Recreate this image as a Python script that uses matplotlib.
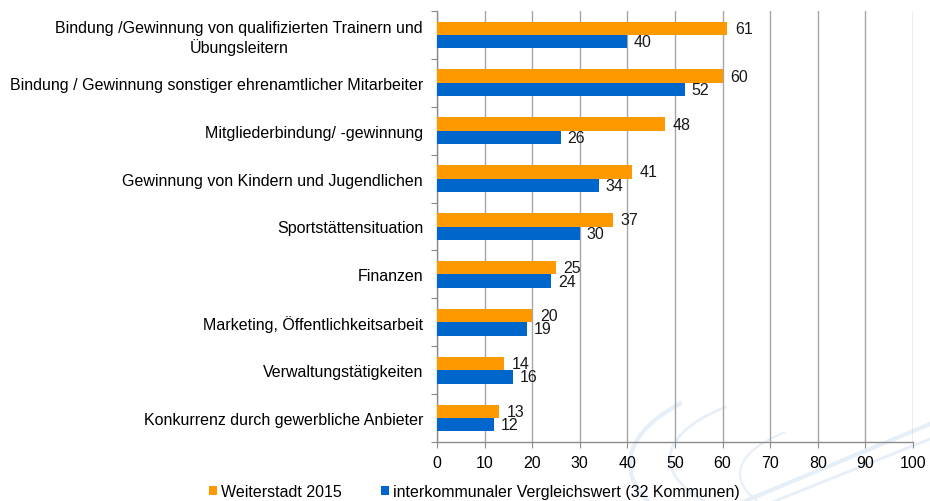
import matplotlib
matplotlib.use("Agg")
import matplotlib.pyplot as plt
from matplotlib.patches import Arc
import numpy as np

plt.rcParams['font.family'] = ['Liberation Sans', 'DejaVu Sans']

# data (top to bottom)
categories = [
    "Bindung /Gewinnung von qualifizierten Trainern und\nÜbungsleitern",
    "Bindung / Gewinnung sonstiger ehrenamtlicher Mitarbeiter",
    "Mitgliederbindung/ -gewinnung",
    "Gewinnung von Kindern und Jugendlichen",
    "Sportstättensituation",
    "Finanzen",
    "Marketing, Öffentlichkeitsarbeit",
    "Verwaltungstätigkeiten",
    "Konkurrenz durch gewerbliche Anbieter",
]
weiterstadt = [61, 60, 48, 41, 37, 25, 20, 14, 13]
vergleich = [40, 52, 26, 34, 30, 24, 19, 16, 12]
series_names = ["Weiterstadt 2015", "interkommunaler Vergleichswert (32 Kommunen)"]
x_ticks = list(range(0, 101, 10))

orange = "#FF9900"
blue = "#0066CC"
grey = "#8C8C8C"
fs = 11.5

fig = plt.figure(figsize=(9.3, 5.02), dpi=100)

# faint swirl watermark in the background (bottom right)
bg = fig.add_axes([0, 0, 1, 1], zorder=-1)
bg.set_xlim(0, 930)
bg.set_ylim(502, 0)
bg.axis('off')
swirl = '#e6eff8'
for w, hgt, cx, cy, lw in [(440, 190, 850, 465, 3), (400, 150, 870, 460, 2), (320, 120, 900, 475, 1.5)]:
    bg.add_patch(Arc((cx, cy), w, hgt, theta1=100, theta2=200, color=swirl, lw=lw))
bg.plot([690, 930], [525, 425], color=swirl, lw=3)
bg.plot([730, 930], [520, 440], color=swirl, lw=2)

ax = fig.add_axes([437 / 930, 1 - 443 / 502, 476 / 930, 431 / 502])
ax.patch.set_alpha(0)

n = len(categories)
y = np.arange(n)[::-1]
h = 0.28

ax.barh(y + h / 2, weiterstadt, height=h, color=orange, label=series_names[0], zorder=3)
ax.barh(y - h / 2, vergleich, height=h, color=blue, label=series_names[1], zorder=3)

# value labels
for yi, v in zip(y, weiterstadt):
    ax.text(v + 1.6, yi + h / 2, str(v), va='center', ha='left', fontsize=fs, color='#1a1a1a')
for yi, v in zip(y, vergleich):
    ax.text(v + 1.4, yi - h / 2, str(v), va='center', ha='left', fontsize=fs, color='#1a1a1a')

ax.set_xlim(0, 100)
ax.set_ylim(-0.5, n - 0.5)
ax.set_xticks(x_ticks)
ax.set_xticklabels([str(t) for t in x_ticks], fontsize=fs)

# category labels centred between tick marks, ticks on the boundaries
ax.set_yticks(np.arange(-0.5, n, 1.0))
ax.set_yticklabels([])
ax.set_yticks(y, minor=True)
ax.set_yticklabels(categories, minor=True, fontsize=fs, multialignment='center')
ax.tick_params(axis='y', which='minor', length=0, pad=10)
ax.tick_params(axis='y', which='major', length=4.5, color=grey, direction='out')
ax.tick_params(axis='x', length=4.5, color=grey, pad=5)

ax.grid(axis='x', color='#A6A6A6', linewidth=1, zorder=0)
for side in ['top', 'right']:
    ax.spines[side].set_visible(False)
for side in ['left', 'bottom']:
    ax.spines[side].set_color(grey)
    ax.spines[side].set_linewidth(1)

fig.legend(loc='center left', bbox_to_anchor=(209 / 930, 1 - 493 / 502), ncol=2, frameon=False,
           fontsize=fs, handlelength=0.5, handleheight=0.5, handletextpad=0.25,
           columnspacing=2.45, borderaxespad=0, borderpad=0)

fig.savefig("out.png", dpi=100)
